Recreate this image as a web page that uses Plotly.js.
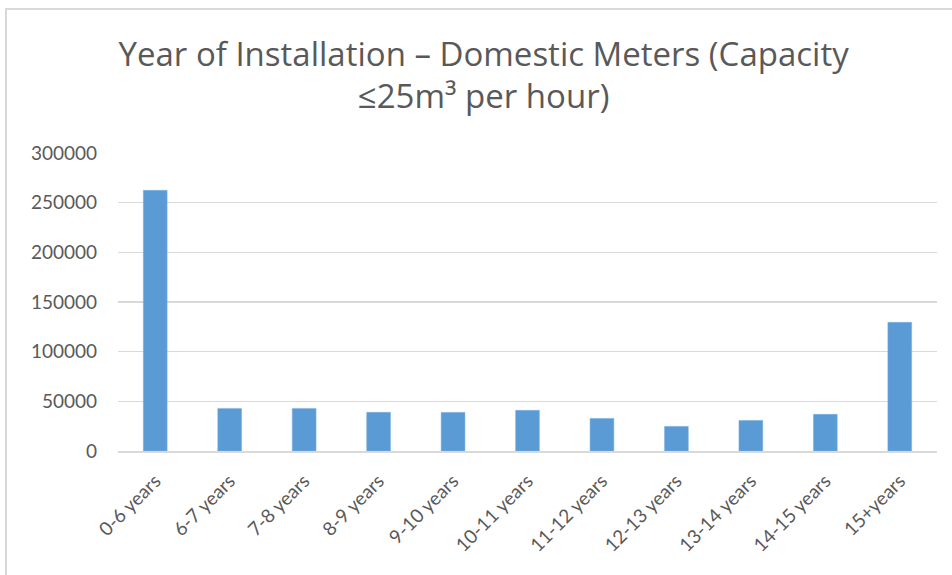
<!DOCTYPE html>
<html>
<head>
<meta charset="utf-8">
<script src="https://cdn.plot.ly/plotly-3.0.1.min.js"></script>
<style>
  html, body { margin: 0; padding: 0; background: #ffffff; }
  #frame { position: absolute; left: 5px; top: 8px; width: 947px; height: 567px;
           border-left: 2px solid #d9d9d9; border-top: 2px solid #d9d9d9; box-sizing: border-box; }
  #chart { position: absolute; left: 0; top: 0; width: 952px; height: 575px; }
</style>
</head>
<body>
<div id="frame"></div>
<div id="chart"></div>
<script>
const categories = ["0-6 years", "6-7 years", "7-8 years", "8-9 years", "9-10 years",
                    "10-11 years", "11-12 years", "12-13 years", "13-14 years", "14-15 years", "15+years"];
const meterCounts = [262400, 42900, 42900, 38900, 38900, 40900, 32800, 24800, 30800, 36900, 129500];
const yTickValues = [0, 50000, 100000, 150000, 200000, 250000, 300000];
const yTickLabels = ["0", "50000", "100000", "150000", "200000", "250000", "300000"];
const chartTitle = "Year of Installation – Domestic Meters (Capacity<br>≤25m³ per hour)";

const font = "Lato, 'Open Sans', sans-serif";
const titleFont = "'Open Sans', Lato, sans-serif";
const grey = "#595959";

const data = [{
  type: "bar",
  x: categories,
  y: meterCounts,
  marker: { color: "#5B9BD5", line: { color: "#7fb1de", width: 0.5 } },
  hoverinfo: "x+y"
}];

const layout = {
  width: 952, height: 575,
  paper_bgcolor: "rgba(0,0,0,0)", plot_bgcolor: "rgba(0,0,0,0)",
  margin: { l: 118, r: 15, t: 153, b: 124 },
  bargap: 0.68,
  showlegend: false,
  title: {
    text: chartTitle,
    font: { family: titleFont, size: 33, color: grey },
    x: 0.508, xref: "container", xanchor: "center",
    y: 0.886, yref: "container", yanchor: "top"
  },
  xaxis: {
    type: "category",
    tickangle: -45,
    tickfont: { family: font, size: 19, color: grey },
    showline: true, linecolor: "#d9d9d9", linewidth: 1.5,
    showgrid: false, ticks: "", ticklabelstandoff: 10
  },
  yaxis: {
    range: [0, 300000],
    tickvals: yTickValues, ticktext: yTickLabels,
    tickfont: { family: font, size: 19, color: grey },
    showgrid: true, gridcolor: "#d9d9d9", gridwidth: 1.5,
    zeroline: false, showline: false, ticks: "", ticklabelstandoff: 20
  }
};

Plotly.newPlot("chart", data, layout, { displayModeBar: false, staticPlot: true });
</script>
</body>
</html>
